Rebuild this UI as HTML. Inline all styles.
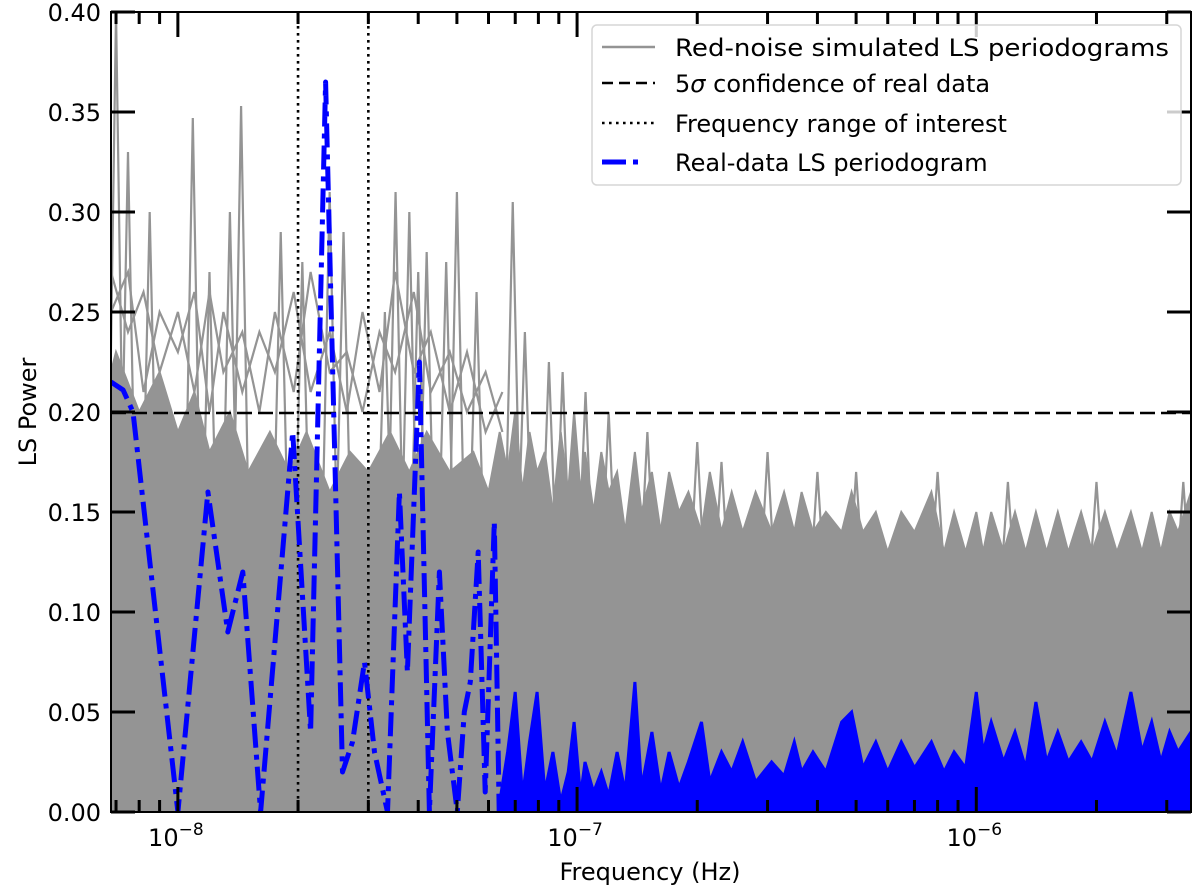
<!DOCTYPE html>
<html><head><meta charset="utf-8"><style>
html,body{margin:0;padding:0;background:#fff;}
svg{display:block;font-family:"DejaVu Sans","Liberation Sans",sans-serif;}
</style></head><body>
<svg id="chart" width="1200" height="894" viewBox="0 0 1200 894" xmlns="http://www.w3.org/2000/svg">
<defs><clipPath id="plotclip"><rect x="111" y="12" width="1080" height="800"/></clipPath></defs>
<g id="plot" clip-path="url(#plotclip)"></g>
<g id="axes"></g>
</svg>
<script>
// ---- data ----
const grayFillFreq = [6.8e-9,7e-9,8e-9,9e-9,1e-8,1.1e-8,1.2e-8,1.35e-8,1.5e-8,1.7e-8,1.9e-8,2.1e-8,2.4e-8,2.7e-8,3e-8,3.4e-8,3.8e-8,4.2e-8,4.8e-8,5.5e-8,6.0e-8,6.4e-8,6.7e-8,7.0e-8,7.3e-8,7.6e-8,7.94e-8,8.3e-8,8.7e-8,9.1e-8,9.5e-8,9.83e-8,1.02e-7,1.047e-7,1.1e-7,1.15e-7,1.2e-7,1.26e-7,1.32e-7,1.396e-7,1.45e-7,1.54e-7,1.62e-7,1.7e-7,1.8e-7,1.9e-7,2.05e-7,2.15e-7,2.3e-7,2.44e-7,2.6e-7,2.8e-7,3.07e-7,3.3e-7,3.5e-7,3.65e-7,3.9e-7,4.2e-7,4.6e-7,4.87e-7,5.2e-7,5.6e-7,6.0e-7,6.49e-7,7.0e-7,7.72e-7,8.3e-7,8.8e-7,9.4e-7,1.0e-6,1.04e-6,1.09e-6,1.17e-6,1.25e-6,1.33e-6,1.41e-6,1.5e-6,1.6e-6,1.7e-6,1.83e-6,1.95e-6,2.1e-6,2.25e-6,2.44e-6,2.6e-6,2.75e-6,2.9e-6,3.05e-6,3.2e-6,3.45e-6];
const grayFillPow = [0.22,0.23,0.20,0.22,0.19,0.21,0.18,0.20,0.17,0.19,0.17,0.19,0.16,0.18,0.17,0.19,0.17,0.19,0.17,0.18,0.16,0.19,0.17,0.20,0.16,0.19,0.17,0.18,0.15,0.19,0.16,0.20,0.16,0.18,0.15,0.18,0.16,0.17,0.14,0.18,0.15,0.17,0.14,0.17,0.15,0.16,0.14,0.17,0.14,0.16,0.14,0.16,0.14,0.16,0.14,0.16,0.14,0.15,0.14,0.16,0.14,0.15,0.13,0.15,0.14,0.16,0.13,0.15,0.13,0.15,0.13,0.15,0.13,0.15,0.13,0.15,0.13,0.15,0.13,0.15,0.13,0.15,0.13,0.15,0.13,0.15,0.13,0.15,0.14,0.16];
const graySpikeFreq = [7e-9,7.5e-9,8.5e-9,1.09e-8,1.2e-8,1.35e-8,1.44e-8,1.81e-8,2.05e-8,2.4e-8,2.6e-8,3.3e-8,3.51e-8,3.8e-8,4.0e-8,4.2e-8,4.7e-8,5.0e-8,5.6e-8,6.9e-8,7.4e-8,8.5e-8,9.2e-8,1.05e-7,1.2e-7,1.5e-7,2e-7,2.3e-7,3e-7,4e-7,5e-7,8e-7,1.2e-6,2e-6,3.3e-6];
const graySpikePow = [0.40,0.33,0.30,0.347,0.27,0.30,0.353,0.29,0.275,0.31,0.29,0.25,0.31,0.30,0.27,0.28,0.275,0.31,0.26,0.305,0.24,0.225,0.22,0.21,0.20,0.19,0.185,0.175,0.18,0.17,0.17,0.17,0.165,0.165,0.165];
const simLineFreq = [6.8e-9,7.5e-9,8.2e-9,9e-9,1e-8,1.1e-8,1.2e-8,1.3e-8,1.45e-8,1.6e-8,1.75e-8,1.95e-8,2.15e-8,2.4e-8,2.65e-8,2.9e-8,3.2e-8,3.5e-8,3.9e-8,4.3e-8,4.8e-8,5.3e-8,5.9e-8,6.5e-8];
const simLineA = [0.27,0.24,0.26,0.22,0.25,0.21,0.26,0.22,0.24,0.20,0.25,0.21,0.27,0.22,0.23,0.20,0.24,0.22,0.26,0.21,0.23,0.20,0.22,0.19];
const simLineB = [0.25,0.27,0.21,0.25,0.23,0.26,0.20,0.25,0.21,0.24,0.22,0.26,0.21,0.24,0.20,0.25,0.21,0.27,0.22,0.24,0.20,0.23,0.19,0.21];
const blueFreq = [6.8e-9,7.29e-9,7.72e-9,1.0e-8,1.189e-8,1.334e-8,1.454e-8,1.612e-8,1.939e-8,2.15e-8,2.344e-8,2.585e-8,2.738e-8,2.934e-8,3.108e-8,3.35e-8,3.589e-8,3.758e-8,4.027e-8,4.266e-8,4.519e-8,4.732e-8,5.012e-8,5.219e-8,5.401e-8,5.655e-8,5.888e-8,6.202e-8,6.383e-8];
const bluePow = [0.215,0.211,0.200,0.0,0.160,0.090,0.120,0.0,0.190,0.040,0.365,0.020,0.035,0.075,0.030,0.0,0.160,0.070,0.225,0.0,0.120,0.040,0.0,0.050,0.065,0.130,0.010,0.145,0.0];
const blueTailFreq = [6.4e-8,6.7e-8,7.0e-8,7.3e-8,7.6e-8,7.94e-8,8.3e-8,8.7e-8,9.1e-8,9.5e-8,9.83e-8,1.02e-7,1.047e-7,1.1e-7,1.15e-7,1.2e-7,1.26e-7,1.32e-7,1.396e-7,1.45e-7,1.54e-7,1.62e-7,1.7e-7,1.8e-7,1.9e-7,2.05e-7,2.15e-7,2.3e-7,2.44e-7,2.6e-7,2.8e-7,3.07e-7,3.3e-7,3.5e-7,3.65e-7,3.9e-7,4.2e-7,4.6e-7,4.87e-7,5.2e-7,5.6e-7,6.0e-7,6.49e-7,7.0e-7,7.72e-7,8.3e-7,8.8e-7,9.4e-7,1.0e-6,1.04e-6,1.09e-6,1.17e-6,1.25e-6,1.33e-6,1.41e-6,1.5e-6,1.6e-6,1.7e-6,1.83e-6,1.95e-6,2.1e-6,2.25e-6,2.44e-6,2.6e-6,2.75e-6,2.9e-6,3.05e-6,3.2e-6,3.45e-6];
const blueTailPow = [0.005,0.030,0.060,0.008,0.035,0.060,0.010,0.030,0.005,0.020,0.045,0.008,0.025,0.010,0.020,0.008,0.030,0.010,0.065,0.012,0.040,0.010,0.030,0.012,0.025,0.045,0.015,0.030,0.020,0.035,0.015,0.025,0.018,0.035,0.020,0.030,0.020,0.045,0.050,0.022,0.035,0.020,0.035,0.022,0.035,0.020,0.030,0.022,0.060,0.030,0.045,0.025,0.040,0.022,0.055,0.025,0.040,0.025,0.035,0.025,0.045,0.028,0.060,0.030,0.045,0.025,0.040,0.030,0.040];
const thresholdPow = 0.1995;
const rangeFreq = [2e-8, 3e-8];
const yTicks = [0.00,0.05,0.10,0.15,0.20,0.25,0.30,0.35,0.40];
const xDecades = [-8,-7,-6];

// ---- axes ----
const L=111,R=1191,T=12,B=812;
const lmin=Math.log10(6.8e-9), lmax=Math.log10(3.45e-6);
function xs(f){return L+(Math.log10(f)-lmin)/(lmax-lmin)*(R-L);}
function ys(p){return B-(p/0.4)*(B-T);}
const NS="http://www.w3.org/2000/svg";
function mk(tag,attrs,parent){const e=document.createElementNS(NS,tag);for(const k in attrs)e.setAttribute(k,attrs[k]);parent.appendChild(e);return e;}
const plot=document.getElementById('plot'), axes=document.getElementById('axes');

// extra simulated lines
[simLineA,simLineB].forEach(ser=>{
  const pl=mk('polyline',{points:simLineFreq.map((f,i)=>xs(f).toFixed(1)+','+ys(ser[i]).toFixed(1)).join(' '),fill:'none',stroke:'#949494','stroke-width':2.2},plot);
  
  
});
// gray spikes
for(let i=0;i<graySpikeFreq.length;i++){
  const x=xs(graySpikeFreq[i]), base=ys(0.10), top=ys(graySpikePow[i]);
  const s=mk('polyline',{points:(x-9)+','+base+' '+x+','+top+' '+(x+9)+','+base,fill:'none',stroke:'#949494','stroke-width':2.2},plot);
  
  
}
// gray solid fill
let d='M'+xs(grayFillFreq[0])+','+B;
for(let i=0;i<grayFillFreq.length;i++) d+=' L'+xs(grayFillFreq[i]).toFixed(1)+','+ys(grayFillPow[i]).toFixed(1);
d+=' L'+R+','+B+' Z';
const gf=mk('path',{d:d,fill:'#949494',stroke:'#949494','stroke-width':2},plot);


// threshold
const th=mk('line',{x1:L,x2:R,y1:ys(thresholdPow),y2:ys(thresholdPow),stroke:'#000','stroke-width':2.6,'stroke-dasharray':'15 6'},plot);


// range lines
rangeFreq.forEach(f=>{
  const l=mk('line',{x1:xs(f),x2:xs(f),y1:T,y2:B,stroke:'#000','stroke-width':2.6,'stroke-dasharray':'2.6 4.4'},plot);
  
  
});
// blue low-freq line
let bp=blueFreq.map((f,i)=>xs(f).toFixed(1)+','+ys(bluePow[i]).toFixed(1)).join(' ');
const bl=mk('polyline',{points:bp,fill:'none',stroke:'#0000ff','stroke-width':5,'stroke-dasharray':'24 7 5 7','stroke-linejoin':'round'},plot);


// blue tail
let td='M'+xs(blueTailFreq[0]).toFixed(1)+','+B;
for(let i=0;i<blueTailFreq.length;i++) td+=' L'+xs(blueTailFreq[i]).toFixed(1)+','+ys(blueTailPow[i]).toFixed(1);
td+=' L'+R+','+B+' Z';
const bt=mk('path',{d:td,fill:'#0000ff',stroke:'#0000ff','stroke-width':3,'stroke-linejoin':'miter'},plot);



// frame
const fr=mk('rect',{x:L,y:T,width:R-L,height:B-T,fill:'none',stroke:'#000','stroke-width':2},axes);


// y ticks
yTicks.forEach(v=>{
  const y=ys(v);
  mk('line',{x1:L,x2:L+24,y1:y,y2:y,stroke:'#000','stroke-width':3},axes);
  mk('line',{x1:R-24,x2:R,y1:y,y2:y,stroke:'#000','stroke-width':3},axes);
  const t=mk('text',{x:101,y:y+9,'text-anchor':'end','font-size':24,fill:'#000'},axes);
  t.textContent=v.toFixed(2);
  
  
});
// x ticks (log minor)
for(let e=-9;e<=-6;e++){
  for(let m=1;m<=9;m++){
    const f=m*Math.pow(10,e);
    const x=xs(f); if(x<L-0.5||x>R+0.5) continue;
    const len=m===1?25:12;
    mk('line',{x1:x,x2:x,y1:T,y2:T+len,stroke:'#000','stroke-width':3},axes);
    mk('line',{x1:x,x2:x,y1:B,y2:B-len,stroke:'#000','stroke-width':3},axes);
  }
}
xDecades.forEach(e=>{
  const x=xs(Math.pow(10,e));
  const t=mk('text',{x:x-2,y:846,'text-anchor':'middle','font-size':24,fill:'#000'},axes);
  
  
  t.innerHTML='10<tspan dy="-11" font-size="17">\u2212'+(-e)+'</tspan>';
});
</script>
<script>
const svg=document.getElementById('chart');
const NS2="http://www.w3.org/2000/svg";
function add(tag,attrs,txt,name){const e=document.createElementNS(NS2,tag);for(const k in attrs)e.setAttribute(k,attrs[k]);if(txt)e.textContent=txt;


svg.appendChild(e);return e;}
add('text',{x:650,y:880,'text-anchor':'middle','font-size':24,fill:'#000'},'Frequency (Hz)','x-axis-title');
add('text',{x:36,y:412,'text-anchor':'middle','font-size':24,fill:'#000',transform:'rotate(-90 36 412)'},'LS Power','y-axis-title');
add('rect',{x:592,y:25,width:589,height:160,rx:5,fill:'#fff','fill-opacity':0.8,stroke:'#d6d6d6','stroke-width':1.5},null,'legend-box');
const rows=[47,83,123,162];
add('line',{x1:602,x2:655,y1:rows[0],y2:rows[0],stroke:'#949494','stroke-width':2.5},null,'legend-gray-line');
add('line',{x1:602,x2:655,y1:rows[1],y2:rows[1],stroke:'#000','stroke-width':2.6,'stroke-dasharray':'11 6'},null,'legend-dashed-line');
add('line',{x1:602,x2:655,y1:rows[2],y2:rows[2],stroke:'#000','stroke-width':2.6,'stroke-dasharray':'2.6 4.4'},null,'legend-dotted-line');
add('line',{x1:602,x2:655,y1:rows[3],y2:rows[3],stroke:'#0000ff','stroke-width':5,'stroke-dasharray':'24 7 5 30'},null,'legend-blue-line');
add('text',{x:675,y:rows[0]+9,'font-size':24,fill:'#000',textLength:494,lengthAdjust:'spacingAndGlyphs'},'Red-noise simulated LS periodograms','legend-label-simulated');
const t2=add('text',{x:675,y:rows[1]+9,'font-size':24,fill:'#000'},'','legend-label-threshold');
t2.innerHTML='5<tspan font-style="italic">σ</tspan> confidence of real data';
add('text',{x:675,y:rows[2]+9,'font-size':24,fill:'#000'},'Frequency range of interest','legend-label-range');
add('text',{x:675,y:rows[3]+9,'font-size':24,fill:'#000'},'Real-data LS periodogram','legend-label-real');
</script>
</body></html>
